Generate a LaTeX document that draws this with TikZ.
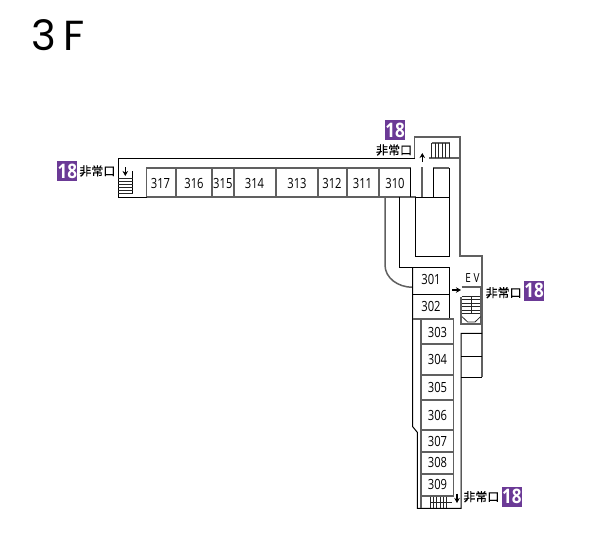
\documentclass[tikz,border=0pt]{standalone}
\usepackage{xcolor}
\usepackage{fontspec}
\usetikzlibrary{positioning, arrows.meta}
\setmainfont{Open Sans}
\newfontfamily\titlefont{Poppins}
\newfontfamily\roomfont[FakeStretch=0.8]{Open Sans}
\newfontfamily\badgefont[FakeStretch=0.85]{Open Sans}
\newfontfamily\jpfont[FakeBold=0.25]{Noto Sans CJK JP}
\definecolor{c1}{HTML}{6b3a96}
\definecolor{c2}{HTML}{606060}
\tikzset{
    wall/.style={black, line width=1pt},
    gwall/.style={c2, line width=1.8pt},
    rung/.style={black!85, line width=0.8pt},
    room/.style={font=\roomfont\fontsize{14}{14}\selectfont, inner sep=0pt},
    badge/.style={fill=c1, text=white, minimum size=20pt, inner sep=0pt, font=\badgefont\bfseries\fontsize{20}{20}\selectfont},
    exitlabel/.style={font=\jpfont\fontsize{12}{12}\selectfont, inner sep=0pt},
    stairarrow/.style={-{Stealth[length=5pt, width=5.5pt]}, line width=1.6pt, black}
}

\begin{document}
\begin{tikzpicture}[x=1pt, y=-1pt]
            \useasboundingbox (0, 0) rectangle (600, 552);
            \node [font=\titlefont\fontsize{42}{42}\selectfont, inner sep=0pt] (title) at (58, 35) {3\hspace{8pt}F};
            % north wing
            \draw[wall] (415, 158.3) -- (118.3, 158.3) -- (118.3, 197.3) -- (146.5, 197.3);
            \draw[gwall] (146.5, 197.3) -- (146.5, 167.7) -- (410.7, 167.7);
            \draw[gwall] (146.5, 197.3) -- (415.7, 197.3);
            \draw[gwall] (175.7, 167.7) -- (175.7, 197.3);
            \draw[gwall] (211.7, 167.7) -- (211.7, 197.3);
            \draw[gwall] (234, 167.7) -- (234, 197.3);
            \draw[gwall] (275.7, 167.7) -- (275.7, 197.3);
            \draw[gwall] (317.7, 167.7) -- (317.7, 197.3);
            \draw[gwall] (346.7, 167.7) -- (346.7, 197.3);
            \draw[gwall] (378.7, 167.7) -- (378.7, 197.3);
            \draw[wall] (410.7, 167.7) -- (410.7, 197.3);
            \draw[wall] (415.7, 197.3) -- (449.3, 197.3);
            % west stairs
            \draw[wall] (132.7, 171) -- (132.7, 193.3);
            \draw[rung] (118.3, 178.3) -- (132.7, 178.3) (118.3, 181.3) -- (132.7, 181.3) (118.3, 184.3) -- (132.7, 184.3) (118.3, 187.3) -- (132.7, 187.3) (118.3, 190.3) -- (132.7, 190.3) (118.3, 193.3) -- (132.7, 193.3);
            \draw[stairarrow] (125.3, 167) -- (125.3, 176);
            % north stairs
            \draw[gwall] (414.5, 158.3) -- (414.5, 136.7) -- (460, 136.7) -- (460, 255.7) -- (482, 255.7) -- (482, 377.3);
            \draw[gwall] (429.3, 157.7) -- (460, 157.7);
            \draw[gwall] (431.7, 143.3) -- (450, 143.3);
            \draw[rung] (431.7, 143.3) -- (431.7, 157.7) (435.1, 143.3) -- (435.1, 157.7) (438.5, 143.3) -- (438.5, 157.7) (441.9, 143.3) -- (441.9, 157.7) (445.3, 143.3) -- (445.3, 157.7) (449.7, 143.3) -- (449.7, 157.7);
            \draw[stairarrow] (422.3, 162) -- (422.3, 153);
            \draw[gwall] (422.3, 167) -- (422.3, 197.3);
            \draw[gwall] (433.3, 167.7) -- (449.3, 167.7);
            \draw[wall] (433.3, 167.7) -- (433.3, 197.3);
            \draw[wall] (449.3, 167.7) -- (449.3, 197.3);
            % core
            \draw[wall] (415.7, 197.3) -- (415.7, 256.7) -- (449.3, 256.7) -- (449.3, 197.3);
            \draw[c2, line width=1.5pt] (385, 197.3) -- (385, 265) .. controls (385, 278) and (398, 287.3) .. (412.7, 287.3);
            \draw[wall] (399.3, 197.3) -- (399.3, 267.3) -- (449.7, 267.3) -- (449.7, 319.3);
            % east wing
            \draw[wall] (412.7, 267.3) -- (412.7, 426.7) -- (417.3, 432.3) -- (417.3, 508.3) -- (461, 508.3) -- (461, 333.3) -- (482, 333.3);
            \draw[wall] (412.7, 294) -- (449.7, 294);
            \draw[gwall] (412.7, 319.3) -- (453.5, 319.3) -- (453.5, 495.7) -- (421, 495.7) -- (421, 319.3);
            \draw[gwall] (421, 344) -- (453.5, 344);
            \draw[gwall] (421, 374.7) -- (453.5, 374.7);
            \draw[gwall] (421, 400) -- (453.5, 400);
            \draw[gwall] (421, 429.7) -- (453.5, 429.7);
            \draw[gwall] (421, 451.7) -- (453.5, 451.7);
            \draw[gwall] (421, 473.7) -- (453.5, 473.7);
            \draw[gwall] (421, 495.7) -- (421, 508.3);
            \draw[wall] (461, 356.7) -- (482, 356.7);
            \draw[wall] (461, 377.3) -- (482, 377.3);
            % EV and east stairs
            \node [room, font=\roomfont\fontsize{12.5}{12}\selectfont] (ev) at (472.5, 278) {E\hspace{2.5pt}V};
            \draw[gwall] (461.7, 287) -- (480.7, 287) -- (480.7, 323.5);
            \draw[stairarrow] (452, 290) -- (461, 290);
            \draw[c2, line width=2pt] (460.7, 296.7) -- (460.7, 323.5) -- (482, 323.5);
            \draw[rung] (462, 296) -- (479.5, 296) (462, 299.5) -- (479.5, 299.5) (462, 303) -- (479.5, 303) (462, 306.5) -- (479.5, 306.5) (462, 310) -- (479.5, 310) (462, 313.5) -- (479.5, 313.5) (471, 296) -- (471, 313.5);
            \draw[rung] (462, 316.7) -- (467.7, 322) -- (475, 322) -- (480.5, 316.7);
            % south stairs
            \draw[rung] (430, 496.5) -- (430, 508.3) (433.3, 496.5) -- (433.3, 508.3) (436.6, 496.5) -- (436.6, 508.3) (439.9, 496.5) -- (439.9, 508.3) (443.2, 496.5) -- (443.2, 508.3) (446.5, 496.5) -- (446.5, 508.3);
            \draw[rung] (430, 502.3) -- (451.7, 502.3);
            \draw[stairarrow] (457, 493.5) -- (457, 503);
            % rooms
            \node [room] (r317) at (160.5, 183) {317};
            \node [room] (r316) at (194, 183) {316};
            \node [room] (r315) at (222.8, 183) {315};
            \node [room] (r314) at (254.5, 183) {314};
            \node [room] (r313) at (297, 183) {313};
            \node [room] (r312) at (332, 183) {312};
            \node [room] (r311) at (362.5, 183) {311};
            \node [room] (r310) at (395, 183) {310};
            \node [room] (r301) at (431, 279.5) {301};
            \node [room] (r302) at (431, 306) {302};
            \node [room] (r303) at (437.5, 332) {303};
            \node [room] (r304) at (437.5, 359.5) {304};
            \node [room] (r305) at (437.5, 387) {305};
            \node [room] (r306) at (437.5, 415) {306};
            \node [room] (r307) at (437.5, 441) {307};
            \node [room] (r308) at (437.5, 462) {308};
            \node [room] (r309) at (437.5, 484) {309};
            % exits
            \node [badge] (bw) at (67.3, 171) {18};
            \node [exitlabel, right=1.7pt of bw] (xw) {非常口};
            \node [badge] (bn) at (395, 130) {18};
            \node [exitlabel] (xn) at (394, 150) {非常口};
            \node [badge] (be) at (534, 290.7) {18};
            \node [exitlabel, left=2pt of be, yshift=-2pt] (xe) {非常口};
            \node [badge] (bs) at (511.8, 496.7) {18};
            \node [exitlabel, left=2pt of bs] (xs) {非常口};
        \end{tikzpicture}
\end{document}
